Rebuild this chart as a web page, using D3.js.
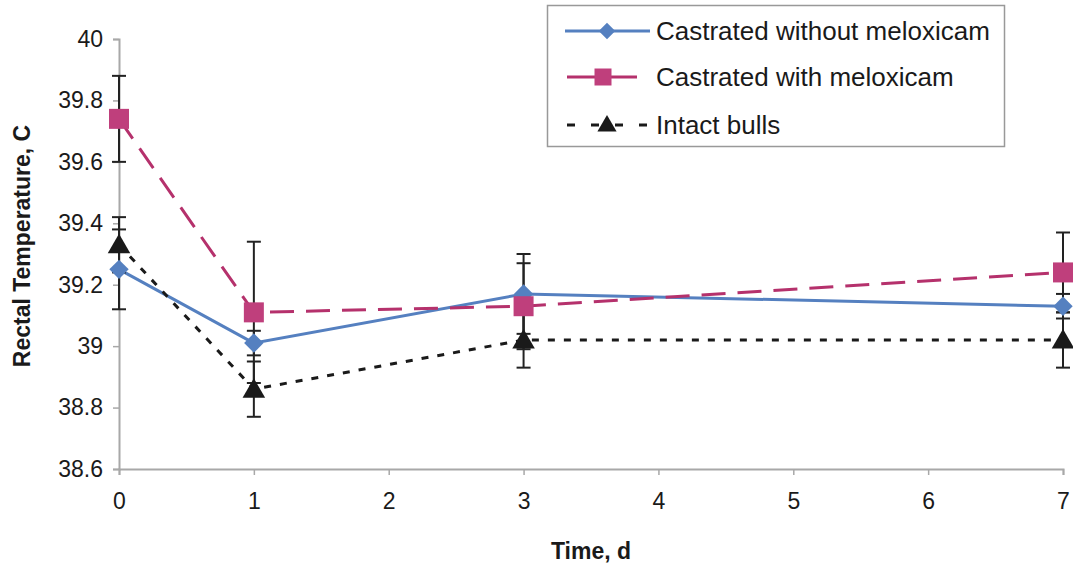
<!DOCTYPE html>
<html>
<head>
<meta charset="utf-8">
<script src="https://cdn.jsdelivr.net/npm/d3@7"></script>
<style>
  body { margin: 0; background: #fff; }
  svg { font-family: "Liberation Sans", Arial, sans-serif; }
</style>
</head>
<body>
<svg id="chart"></svg>
<script>
// Rectal temperature by day, three groups with error bars
const width = 1073;
const height = 573;

// Data
const days = [0, 1, 3, 7];
const withoutMelox = [39.25, 39.01, 39.17, 39.13];
const withoutMeloxErr = [0.13, 0.04, 0.13, 0.04];
const withMelox = [39.74, 39.11, 39.13, 39.24];
const withMeloxErr = [0.14, 0.23, 0.14, 0.13];
const intact = [39.33, 38.86, 39.02, 39.02];
const intactErr = [0.09, 0.09, 0.09, 0.09];
const xTicks = [0, 1, 2, 3, 4, 5, 6, 7];
const yTicks = [38.6, 38.8, 39, 39.2, 39.4, 39.6, 39.8, 40];

const series = [
    { name: "Castrated without meloxicam", values: withoutMelox, err: withoutMeloxErr,
      color: "#5580c0", marker: "diamond", dash: null, width: 3 },
    { name: "Castrated with meloxicam", values: withMelox, err: withMeloxErr,
      color: "#b5316c", marker: "square", dash: "24,12", width: 3 },
    { name: "Intact bulls", values: intact, err: intactErr,
      color: "#1a1a1a", marker: "triangle", dash: "7,9", width: 3 }
];

const svg = d3.select("#chart")
    .attr("width", width)
    .attr("height", height);

const x = d3.scaleLinear().domain([0, 7]).range([119, 1063]);
const y = d3.scaleLinear().domain([38.6, 40]).range([469, 39]);

// Axes
const xAxis = svg.append("g")
    .attr("transform", `translate(0,${y(38.6)})`)
    .call(d3.axisBottom(x).tickValues(xTicks).tickSize(6).tickPadding(18).tickFormat(d3.format("d")));
const yAxis = svg.append("g")
    .attr("transform", `translate(${x(0)},0)`)
    .call(d3.axisLeft(y).tickValues(yTicks).tickSize(6).tickPadding(10).tickFormat(d => d3.format("")(+d.toFixed(1))));

[xAxis, yAxis].forEach(g => {
    g.select(".domain").attr("stroke", "#a8a8a8").attr("stroke-width", 2);
    g.selectAll(".tick line").attr("stroke", "#a8a8a8").attr("stroke-width", 1.5);
    g.selectAll(".tick text")
        .attr("fill", "#1a1a1a")
        .style("font-size", "23px")
        .style("font-family", "'Liberation Sans', Arial, sans-serif");
});

// Axis titles
svg.append("text")
    .attr("x", x(3.5))
    .attr("y", 559)
    .attr("text-anchor", "middle")
    .style("font-size", "23px")
    .style("font-weight", "bold")
    .attr("fill", "#1a1a1a")
    .text("Time, d");

svg.append("text")
    .attr("transform", "translate(30,246) rotate(-90)")
    .attr("text-anchor", "middle")
    .style("font-size", "23px")
    .style("font-weight", "bold")
    .attr("fill", "#1a1a1a")
    .text("Rectal Temperature, C");

// Marker symbols
function markerPath(type) {
    if (type === "diamond") return d3.symbol().type(d3.symbolDiamond2).size(240)();
    if (type === "square") return d3.symbol().type(d3.symbolSquare).size(400)();
    return d3.symbol().type(d3.symbolTriangle).size(220)();
}

const line = d3.line()
    .x((d, i) => x(days[i]))
    .y(d => y(d));

// Lines
series.forEach(s => {
    svg.append("path")
        .datum(s.values)
        .attr("d", line)
        .attr("fill", "none")
        .attr("stroke", s.color)
        .attr("stroke-width", s.width)
        .attr("stroke-dasharray", s.dash);
});

// Error bars
series.forEach(s => {
    const g = svg.append("g").attr("stroke", "#222").attr("stroke-width", 2);
    s.values.forEach((v, i) => {
        const cx = x(days[i]);
        const top = y(v + s.err[i]);
        const bot = y(v - s.err[i]);
        g.append("line").attr("x1", cx).attr("x2", cx).attr("y1", top).attr("y2", bot);
        g.append("line").attr("x1", cx - 7).attr("x2", cx + 7).attr("y1", top).attr("y2", top);
        g.append("line").attr("x1", cx - 7).attr("x2", cx + 7).attr("y1", bot).attr("y2", bot);
    });
});

// Markers
series.forEach(s => {
    svg.selectAll(null)
        .data(s.values)
        .enter()
        .append("path")
        .attr("d", markerPath(s.marker))
        .attr("transform", (d, i) => `translate(${x(days[i])},${y(d) + (s.marker === "triangle" ? 2 : 0)})`)
        .attr("fill", s.marker === "square" ? "#bf3f7c" : s.color);
});

// Legend
const legend = svg.append("g");
legend.append("rect")
    .attr("x", 547.5)
    .attr("y", 5.5)
    .attr("width", 457)
    .attr("height", 141)
    .attr("fill", "#fff")
    .attr("stroke", "#999")
    .attr("stroke-width", 1.5);

const legendY = [31, 77, 125];
series.forEach((s, i) => {
    const ly = legendY[i];
    legend.append("line")
        .attr("x1", s.marker === "diamond" ? 565 : 567)
        .attr("x2", s.marker === "square" ? 637 : 650)
        .attr("y1", ly).attr("y2", ly)
        .attr("stroke", s.color)
        .attr("stroke-width", s.width)
        .attr("stroke-dasharray", s.marker === "triangle" ? "8,16" : null);
    legend.append("path")
        .attr("d", markerPath(s.marker))
        .attr("transform", `translate(${s.marker === "square" ? 603 : 607},${ly + (s.marker === "triangle" ? 1 : 0)}) scale(0.85)`)
        .attr("fill", s.marker === "square" ? "#bf3f7c" : s.color);
    legend.append("text")
        .attr("x", 656)
        .attr("y", ly)
        .attr("dy", "0.35em")
        .style("font-size", "26px")
        .attr("fill", "#1a1a1a")
        .text(s.name);
});
</script>
</body>
</html>
